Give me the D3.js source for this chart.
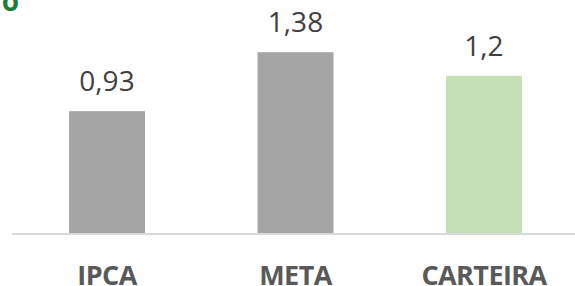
<!DOCTYPE html>
<html>
<head>
    <meta charset="utf-8">
    <title></title>
    <script src="https://d3js.org/d3.v7.min.js"></script>
<style>
body { margin: 0; background: #fff; }
svg { display: block; }
</style>
</head>
<body>
<div id="chart-container"></div>
<script>
const categories = ['IPCA', 'META', 'CARTEIRA'];
const values = [0.93, 1.38, 1.2];
const labels = ['0,93', '1,38', '1,2'];
const barColors = ['#a5a5a5', '#a5a5a5', '#c5e0b4'];

const width = 575, height = 286;
const baseY = 233;

const svg = d3.select('#chart-container').append('svg')
    .attr('width', width)
    .attr('height', height);

const xScale = d3.scaleBand()
    .domain(categories)
    .range([12.75, 578.25])
    .paddingInner(0.597)
    .paddingOuter(0.2985);

const yScale = d3.scaleLinear()
    .domain([0, 1.6])
    .range([baseY, baseY - 1.6 * 131]);

// clipped title fragment at top-left
svg.append('text')
    .attr('x', 19)
    .attr('y', 11)
    .attr('text-anchor', 'end')
    .style('font-family', '"Open Sans", sans-serif')
    .style('font-weight', 'bold')
    .style('font-size', '28px')
    .style('fill', '#1e7b3c')
    .text('ão');

svg.selectAll('.bar')
    .data(categories)
    .join('rect')
    .attr('class', 'bar')
    .attr('x', d => xScale(d))
    .attr('width', xScale.bandwidth())
    .attr('y', (d, i) => yScale(values[i]))
    .attr('height', (d, i) => yScale(0) - yScale(values[i]))
    .style('fill', (d, i) => barColors[i]);

svg.append('line')
    .attr('x1', 12)
    .attr('x2', width)
    .attr('y1', baseY + 1)
    .attr('y2', baseY + 1)
    .style('stroke', '#d9d9d9')
    .style('stroke-width', 2);

svg.selectAll('.value')
    .data(categories)
    .join('text')
    .attr('class', 'value')
    .attr('x', d => xScale(d) + xScale.bandwidth() / 2)
    .attr('y', (d, i) => yScale(values[i]) - 20)
    .attr('text-anchor', 'middle')
    .style('font-family', '"Open Sans", sans-serif')
    .style('font-size', '28px')
    .style('fill', '#404040')
    .text((d, i) => labels[i]);

svg.selectAll('.cat')
    .data(categories)
    .join('text')
    .attr('class', 'cat')
    .attr('x', d => xScale(d) + xScale.bandwidth() / 2)
    .attr('y', 285)
    .attr('text-anchor', 'middle')
    .style('font-family', '"Open Sans", sans-serif')
    .style('font-weight', 'bold')
    .style('font-size', '27px')
    .style('letter-spacing', '-0.6px')
    .style('fill', '#595959')
    .text(d => d);
</script>
</body>
</html>
